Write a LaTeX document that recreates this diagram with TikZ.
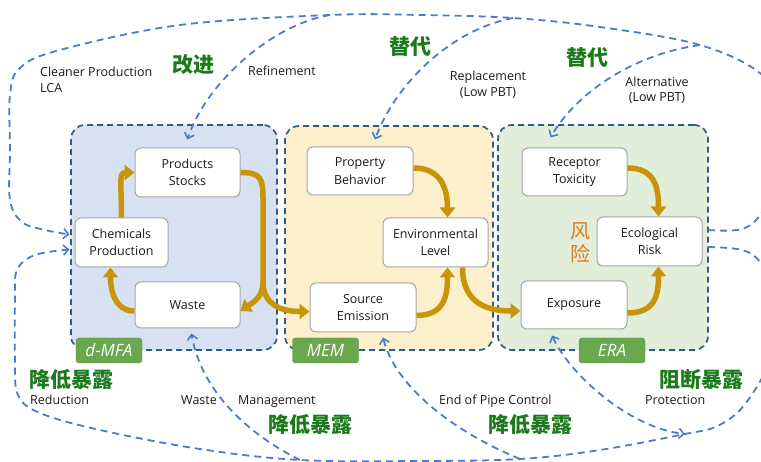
\documentclass[tikz,border=0pt]{standalone}
\usepackage{fontspec}
\setmainfont{Open Sans}
\newfontfamily\cjk{Noto Sans CJK SC}
\usetikzlibrary{arrows.meta,calc}
\definecolor{fbblue}{HTML}{4A7BD0}
\definecolor{regborder}{HTML}{2F5B87}
\definecolor{mfafill}{HTML}{D7E1F1}
\definecolor{memfill}{HTML}{FCEFCB}
\definecolor{erafill}{HTML}{E2EED9}
\definecolor{gold}{HTML}{C8950A}
\definecolor{taggreen}{HTML}{6AA84F}
\definecolor{tagborder}{HTML}{588F3F}
\definecolor{cngreen}{HTML}{1B7A1B}
\definecolor{riskorange}{HTML}{E0781A}
\definecolor{boxgray}{HTML}{A6A6A6}
\definecolor{txt}{HTML}{1A1A1A}
\begin{document}
\begin{tikzpicture}[x=1pt,y=-1pt,
  region/.style={draw=regborder, line width=1.7pt, dash pattern=on 6pt off 4pt, rounded corners=14pt},
  box/.style={draw=boxgray, fill=white, rounded corners=6pt, line width=1pt, align=center, inner sep=0pt, text=txt, font=\fontsize{12.5}{17.5}\selectfont},
  tag/.style={fill=taggreen, draw=tagborder, rounded corners=3pt, text=white, minimum width=66pt, minimum height=25pt, inner sep=0pt, font=\fontsize{17}{17}\selectfont\itshape},
  flow/.style={draw=gold, line width=5.5pt, -{Triangle[length=10pt,width=15pt]}},
  fb/.style={draw=fbblue, line width=1.8pt, dash pattern=on 7pt off 5pt},
  fbarrow/.style={fb, -{Straight Barb[length=5pt,width=10pt,line width=1.6pt]}},
  cn/.style={font=\cjk\bfseries\fontsize{21}{21}\selectfont, text=cngreen, inner sep=0pt},
  lbl/.style={font=\fontsize{12.5}{16}\selectfont, text=txt, inner sep=0pt}]
\useasboundingbox (0,0) rectangle (761,462);
\clip (0,0) rectangle (761,462);

% regions
\node[region, fill=mfafill, minimum width=206pt, minimum height=225pt] (mfa) at (174,237.5) {};
\node[region, fill=memfill, minimum width=208pt, minimum height=224pt] (mem) at (389,238) {};
\node[region, fill=erafill, minimum width=210pt, minimum height=225pt] (era) at (603,237.5) {};

% boxes
\node[box, minimum width=105pt, minimum height=49pt] (prod) at (187.5,172.5) {Products\\Stocks};
\node[box, minimum width=93pt, minimum height=49pt] (chem) at (121.5,242.5) {Chemicals\\Production};
\node[box, minimum width=105pt, minimum height=46pt] (waste) at (187.5,305) {Waste};
\node[box, minimum width=106pt, minimum height=48pt] (prop) at (360,171) {Property\\Behavior};
\node[box, minimum width=105pt, minimum height=49pt] (env) at (435.5,242.5) {Environmental\\Level};
\node[box, minimum width=106pt, minimum height=49pt] (src) at (363,307.5) {Source\\Emission};
\node[box, minimum width=105pt, minimum height=48pt] (rec) at (574.5,172) {Receptor\\Toxicity};
\node[box, minimum width=105pt, minimum height=49pt] (risk) at (649.5,241.5) {Ecological\\Risk};
\node[box, minimum width=106pt, minimum height=48pt] (exp) at (574,305) {Exposure};

% gold flows
\coordinate (jg) at (263,282);
\draw[flow] (chem.north) .. controls +(0,-32) and +(-16,0) .. (prod.west);
\draw[flow] ($(waste.west)+(0,6)$) .. controls +(-20,0) and +(0,22) .. ($(chem.south)+(-11,0)$);
\draw[flow] (prod.east) .. controls +(20,0) and +(0,-20) .. (263,198) -- (jg) .. controls (263,298) and (252,303) .. ($(waste.east)+(0,6)$);
\draw[flow] (jg) .. controls (263,305) and (282,311.5) .. ($(src.west)+(0,4)$);
\draw[flow] ($(prop.east)+(0,-3)$) .. controls +(28,0) and +(0,-28) .. ($(env.north)+(12,0)$);
\draw[flow] ($(src.east)+(0,8)$) .. controls +(28,0) and +(0,28) .. ($(env.south)+(12,0)$);
\draw[flow] ($(env.south)+(27,0)$) .. controls +(0,38) and +(-30,0) .. ($(exp.west)+(0,6)$);
\draw[flow] ($(rec.east)+(0,-4)$) .. controls +(28,0) and +(0,-28) .. ($(risk.north)+(9,0)$);
\draw[flow] ($(exp.east)+(0,8)$) .. controls +(28,0) and +(0,28) .. ($(risk.south)+(9,0)$);

% feedback loops
\coordinate (r1) at (708,230);
\coordinate (r2) at (708,247);
\coordinate (jt1) at (330,15);
\coordinate (jt2) at (513,18);
\coordinate (jt3) at (700,45);
\coordinate (jb1) at (300,460);
\coordinate (jb2) at (520,459);
\coordinate (jb3) at (685,434);
\coordinate (ta) at ($(chem.west)+(-5,-8)$);
\coordinate (tb) at ($(chem.west)+(-5,7)$);
\draw[fbarrow] plot[smooth, tension=0.6] coordinates {(r1) (742,229) (762,212) (778,170) (778,110) (761,74) (jt3) (600,27) (jt2) (420,15) (jt1) (180,25) (60,50) (20,68) (10,95) (10,150) (10,200) (22,222) (45,230) (ta)};
\draw[fbarrow] plot[smooth, tension=0.6] coordinates {(r2) (742,250) (760,262) (778,295) (780,340) (762,378) (740,410) (715,427) (jb3) (600,450) (jb2) (420,461) (jb1) (200,449) (100,430) (40,413) (18,395) (15,360) (15,300) (17,270) (35,255) (tb)};
\draw[fbarrow] (jt1) .. controls (270,25) and (205,85) .. ($(prod.north)+(0,-8)$);
\draw[fbarrow] (jt2) .. controls (450,30) and (395,85) .. ($(prop.north)+(15,-7)$);
\draw[fbarrow] (jt3) .. controls (630,55) and (575,95) .. ($(rec.north)+(-24,-10)$);
\draw[fbarrow] (jb1) .. controls (240,430) and (200,385) .. ($(waste.south)+(4,5)$);
\draw[fbarrow] (jb2) .. controls (450,430) and (395,385) .. ($(src.south)+(20,5)$);
\draw[fb, {Straight Barb[length=5pt,width=10pt,line width=1.6pt]}-{Straight Barb[length=5pt,width=10pt,line width=1.6pt]}] ($(exp.south)+(-22,6)$) .. controls (570,375) and (630,428) .. (jb3);

% tags
\node[tag] (tmfa) at (109,350.5) {d-MFA};
\node[tag] (tmem) at (325.5,350.5) {MEM};
\node[tag] (tera) at (612,350.5) {ERA};

% risk label
\node[font=\cjk\fontsize{20}{20}\selectfont, text=riskorange, inner sep=0pt] (feng) at (580,231) {风};
\node[font=\cjk\fontsize{20}{20}\selectfont, text=riskorange, inner sep=0pt] (xian) at (580,254) {险};

% chinese labels
\node[cn] (gj) at (193,65) {改进};
\node[cn] (td1) at (410,47) {替代};
\node[cn] (td2) at (587,58) {替代};
\node[cn] (jd1) at (72,380) {降低暴露};
\node[cn] (jd2) at (310,425) {降低暴露};
\node[cn] (jd3) at (530,425) {降低暴露};
\node[cn] (zd) at (701,380) {阻断暴露};

% english labels
\node[lbl, anchor=base west] (cp) at (40,77) {Cleaner Production};
\node[lbl, anchor=base west] (lca) at (40,93) {LCA};
\node[lbl, anchor=base west] (refi) at (248,76) {Refinement};
\node[lbl, anchor=base] (repl) at (488,81) {Replacement};
\node[lbl, anchor=base] (repl2) at (488,97) {(Low PBT)};
\node[lbl, anchor=base] (alt) at (657,87) {Alternative};
\node[lbl, anchor=base] (alt2) at (657,102) {(Low PBT)};
\node[lbl, anchor=base west] (red) at (30,405) {Reduction};
\node[lbl, anchor=base west] (wst) at (181,405) {Waste};
\node[lbl, anchor=base west] (mgmt) at (238,405) {Management};
\node[lbl, anchor=base west] (eop) at (439,405) {End of Pipe Control};
\node[lbl, anchor=base west] (prot) at (645,405) {Protection};
\end{tikzpicture}
\end{document}
